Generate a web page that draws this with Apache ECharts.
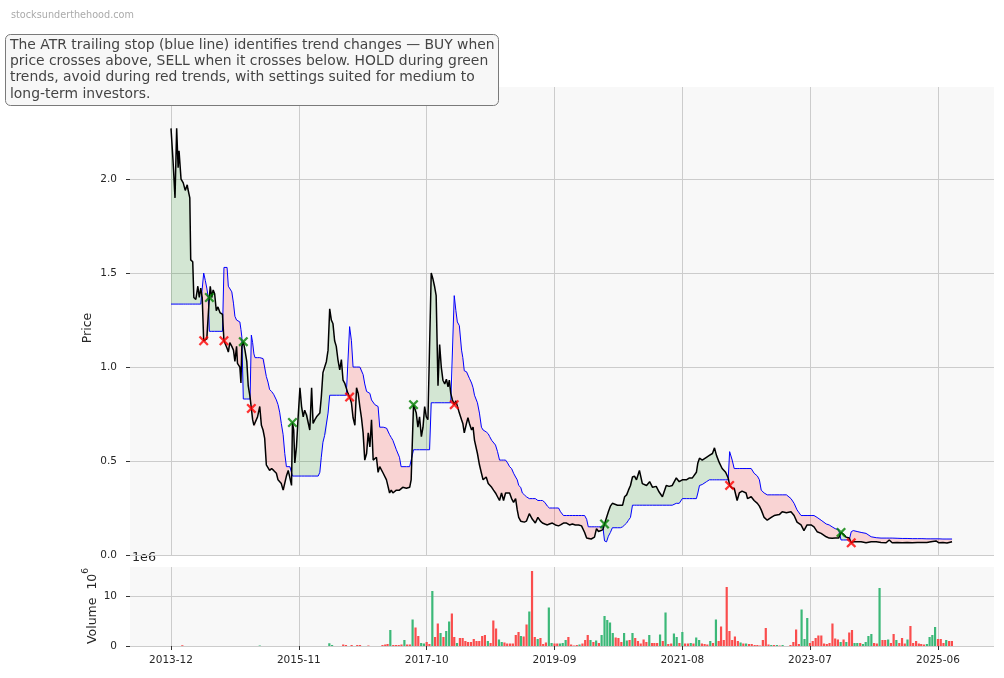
<!DOCTYPE html>
<html><head><meta charset="utf-8">
<script src="https://cdn.jsdelivr.net/npm/echarts@6/dist/echarts.min.js"></script>
<style>html,body{margin:0;padding:0;background:#fff;}#c{width:1004px;height:678px;}</style>
</head><body><div id="c"></div>
<script>
// ---------- DATA ----------
const dates = [
'2013-12-01','2013-12-12','2013-12-23','2014-01-01','2014-01-09','2014-01-14','2014-01-25','2014-02-06','2014-02-17','2014-02-28',
'2014-03-03','2014-03-14','2014-03-19','2014-03-30','2014-04-05','2014-04-16','2014-04-27','2014-05-05','2014-05-13','2014-05-21',
'2014-05-29','2014-06-07','2014-06-15','2014-06-23','2014-06-29','2014-07-04','2014-07-12','2014-07-20','2014-07-28','2014-08-06',
'2014-08-15','2014-08-26','2014-09-09','2014-09-17','2014-09-25','2014-10-04','2014-10-11','2014-10-19','2014-10-30','2014-11-08',
'2014-11-16','2014-11-25','2014-11-30','2014-12-13','2014-12-19','2014-12-24','2015-01-01','2015-01-10','2015-01-20','2015-01-28',
'2015-02-07','2015-02-14','2015-02-21','2015-02-28','2015-03-06','2015-03-20','2015-04-01','2015-04-10','2015-04-19','2015-04-28',
'2015-05-07','2015-05-16','2015-05-25','2015-06-05','2015-06-16','2015-07-01','2015-07-10','2015-07-19','2015-07-28','2015-08-07',
'2015-08-16','2015-08-25','2015-09-04','2015-09-13','2015-09-22','2015-09-27','2015-10-04','2015-10-10','2015-10-19','2015-10-28',
'2015-11-07','2015-11-16','2015-11-25','2015-12-03','2015-12-13','2015-12-21','2015-12-31','2016-01-10','2016-01-18','2016-01-28',
'2016-02-06','2016-02-15','2016-02-24','2016-03-03','2016-03-12','2016-03-21','2016-03-31','2016-04-09','2016-04-18','2016-04-27',
'2016-05-06','2016-05-15','2016-05-24','2016-06-02','2016-06-12','2016-06-21','2016-06-30','2016-07-09','2016-07-18','2016-07-27',
'2016-08-05','2016-08-15','2016-08-24','2016-09-03','2016-09-12','2016-09-21','2016-09-30','2016-10-09','2016-10-18','2016-10-27',
'2016-11-06','2016-11-15','2016-11-24','2016-12-03','2016-12-12','2016-12-21','2016-12-30','2017-01-08','2017-01-17','2017-02-05',
'2017-02-23','2017-03-03','2017-03-12','2017-03-21','2017-03-30','2017-04-18','2017-05-05','2017-05-14','2017-05-23','2017-06-12',
'2017-06-30','2017-07-08','2017-07-21','2017-08-05','2017-08-14','2017-08-23','2017-09-02','2017-09-11','2017-09-20','2017-09-29',
'2017-10-08','2017-10-17','2017-10-26','2017-11-04','2017-11-13','2017-11-22','2017-12-02','2017-12-11','2017-12-20','2017-12-29',
'2018-01-08','2018-01-17','2018-01-26','2018-02-02','2018-02-10','2018-02-19','2018-03-01','2018-03-10','2018-03-18','2018-03-29',
'2018-04-10','2018-04-17','2018-04-25','2018-05-07','2018-05-15','2018-05-23','2018-06-04','2018-06-12','2018-06-20','2018-07-06',
'2018-07-17','2018-07-28','2018-08-06','2018-08-23','2018-09-03','2018-09-11','2018-09-22','2018-10-02','2018-10-13','2018-10-24',
'2018-11-04','2018-11-15','2018-11-26','2018-12-07','2018-12-18','2018-12-29','2019-01-09','2019-01-20','2019-01-31','2019-02-09',
'2019-02-17','2019-02-28','2019-03-09','2019-03-20','2019-03-31','2019-04-16','2019-05-03','2019-05-19','2019-06-02','2019-06-16',
'2019-06-27','2019-07-10','2019-07-24','2019-08-04','2019-08-20','2019-09-06','2019-09-23','2019-10-04','2019-10-20','2019-11-06',
'2019-11-22','2019-12-08','2019-12-24','2020-01-11','2020-01-27','2020-02-13','2020-02-24','2020-03-04','2020-03-20','2020-04-07',
'2020-04-18','2020-04-29','2020-05-12','2020-05-23','2020-06-01','2020-06-12','2020-06-22','2020-07-03','2020-07-14','2020-07-28',
'2020-08-11','2020-08-27','2020-09-08','2020-09-19','2020-09-30','2020-10-10','2020-10-21','2020-11-01','2020-11-12','2020-11-23',
'2020-12-09','2020-12-25','2021-01-17','2021-02-03','2021-02-19','2021-03-11','2021-03-27','2021-04-14','2021-05-05','2021-05-21',
'2021-06-07','2021-06-29','2021-07-15','2021-08-01','2021-08-23','2021-09-09','2021-09-25','2021-10-17','2021-10-25','2021-11-03',
'2021-11-18','2021-12-11','2021-12-27','2022-01-13','2022-01-24','2022-02-04','2022-02-20','2022-03-07','2022-03-26','2022-04-09',
'2022-04-17','2022-05-01','2022-05-12','2022-05-28','2022-06-09','2022-06-24','2022-07-16','2022-07-24','2022-08-13','2022-08-29',
'2022-09-16','2022-09-27','2022-10-07','2022-10-23','2022-11-09','2022-12-01','2022-12-17','2023-01-14','2023-01-30','2023-02-22',
'2023-03-19','2023-04-05','2023-04-21','2023-05-13','2023-05-29','2023-06-15','2023-07-07','2023-07-23','2023-08-09','2023-08-31',
'2023-09-28','2023-10-14','2023-10-30','2023-11-16','2023-12-05','2023-12-18','2024-01-01','2024-01-15','2024-02-01','2024-02-12',
'2024-02-23','2024-03-15','2024-04-06','2024-05-03','2024-05-31','2024-06-28','2024-07-24','2024-08-21','2024-09-07','2024-09-23',
'2024-10-20','2024-11-17','2024-12-14','2025-01-11','2025-02-08','2025-03-05','2025-04-01','2025-04-23','2025-05-21','2025-06-06',
'2025-06-28','2025-07-20','2025-08-17'
];
const closePrice = [
2.27,2.10,1.90,2.27,2.06,2.15,2.00,1.98,1.94,1.97,
1.95,1.90,1.57,1.56,1.37,1.36,1.43,1.37,1.42,1.37,
1.14,1.14,1.15,1.14,1.37,1.43,1.37,1.41,1.39,1.30,
1.32,1.29,1.28,1.14,1.13,1.10,1.08,1.13,1.11,1.09,
1.03,1.11,1.02,1.00,0.915,1.11,1.135,1.09,1.03,0.90,
0.84,0.78,0.72,0.69,0.68,0.735,0.79,0.69,0.665,0.62,
0.48,0.49,0.45,0.46,0.45,0.435,0.40,0.40,0.38,0.345,
0.345,0.42,0.45,0.46,0.37,0.705,0.665,0.49,0.575,0.73,
0.89,0.79,0.735,0.77,0.745,0.755,0.665,0.89,0.70,0.72,
0.735,0.745,0.755,0.84,0.97,0.96,1.03,1.09,1.31,1.25,
1.23,1.14,1.11,1.04,0.985,1.04,0.93,0.915,0.915,0.86,
0.84,0.81,0.73,0.69,0.89,0.86,0.79,0.73,0.65,0.505,
0.54,0.65,0.575,0.72,0.505,0.51,0.52,0.44,0.47,0.435,
0.40,0.40,0.33,0.345,0.33,0.345,0.345,0.35,0.36,0.355,
0.36,0.40,0.80,0.755,0.68,0.735,0.63,0.68,0.79,0.735,
0.72,0.72,1.50,1.47,1.43,1.38,0.90,1.12,1.00,0.93,
0.91,0.935,0.895,0.93,0.86,0.825,0.80,0.82,0.82,0.755,
0.72,0.70,0.65,0.70,0.73,0.70,0.665,0.68,0.61,0.54,
0.48,0.435,0.40,0.415,0.38,0.37,0.36,0.345,0.33,0.31,
0.29,0.33,0.29,0.33,0.33,0.33,0.30,0.28,0.30,0.24,
0.20,0.18,0.175,0.175,0.18,0.22,0.19,0.17,0.20,0.18,
0.17,0.165,0.16,0.165,0.17,0.16,0.155,0.16,0.17,0.17,
0.16,0.165,0.16,0.16,0.155,0.12,0.09,0.08,0.085,0.095,
0.14,0.125,0.13,0.135,0.165,0.20,0.23,0.26,0.275,0.27,
0.265,0.265,0.265,0.31,0.32,0.345,0.37,0.415,0.42,0.40,
0.45,0.38,0.37,0.39,0.36,0.365,0.335,0.31,0.37,0.365,
0.37,0.41,0.39,0.40,0.40,0.41,0.41,0.44,0.49,0.515,
0.505,0.52,0.53,0.54,0.57,0.53,0.49,0.46,0.44,0.41,
0.37,0.355,0.355,0.29,0.33,0.34,0.33,0.30,0.31,0.29,
0.275,0.26,0.24,0.20,0.185,0.20,0.21,0.215,0.23,0.225,
0.23,0.21,0.175,0.16,0.13,0.16,0.16,0.15,0.124,0.115,
0.097,0.09,0.089,0.09,0.09,0.12,0.11,0.095,0.09,0.065,
0.07,0.07,0.07,0.065,0.07,0.07,0.067,0.065,0.08,0.065,
0.067,0.065,0.066,0.065,0.067,0.066,0.066,0.07,0.075,0.065,
0.066,0.064,0.07
];
const stopLine = [
1.335,1.335,1.335,1.335,1.335,1.335,1.335,1.335,1.335,1.335,
1.335,1.335,1.335,1.335,1.335,1.335,1.335,1.335,1.335,1.335,
1.50,1.46,1.42,1.37,1.19,1.19,1.19,1.19,1.19,1.19,
1.19,1.19,1.19,1.53,1.53,1.53,1.43,1.42,1.40,1.34,
1.27,1.25,1.25,1.24,1.20,1.16,0.83,0.83,0.83,0.83,
0.83,1.17,1.13,1.07,1.05,1.05,1.05,1.05,1.045,1.04,
0.95,0.92,0.88,0.87,0.855,0.825,0.80,0.76,0.70,0.64,
0.54,0.47,0.47,0.47,0.47,0.42,0.42,0.42,0.42,0.42,
0.42,0.42,0.42,0.42,0.42,0.42,0.42,0.42,0.42,0.42,
0.42,0.42,0.44,0.52,0.60,0.635,0.645,0.755,0.85,0.85,
0.85,0.85,0.85,0.85,0.85,0.85,0.85,0.85,0.85,0.85,
1.215,1.14,1.00,1.00,1.00,1.00,1.00,1.00,0.96,0.91,
0.87,0.865,0.86,0.825,0.815,0.80,0.795,0.79,0.68,0.68,
0.675,0.675,0.64,0.625,0.61,0.56,0.52,0.47,0.47,0.47,
0.47,0.47,0.56,0.56,0.56,0.56,0.56,0.56,0.56,0.56,
0.56,0.56,0.81,0.81,0.81,0.81,0.81,0.81,0.81,0.81,
0.81,0.81,0.81,0.81,0.81,0.81,1.38,1.30,1.24,1.22,
1.09,1.05,0.98,0.975,0.97,0.94,0.915,0.89,0.85,0.81,
0.755,0.68,0.665,0.655,0.645,0.63,0.61,0.60,0.585,0.55,
0.505,0.505,0.505,0.505,0.49,0.47,0.46,0.435,0.415,0.40,
0.37,0.36,0.33,0.32,0.31,0.30,0.30,0.30,0.29,0.29,
0.29,0.28,0.26,0.25,0.25,0.25,0.25,0.23,0.21,0.21,
0.21,0.21,0.21,0.21,0.21,0.21,0.19,0.15,0.15,0.15,
0.15,0.15,0.15,0.15,0.075,0.07,0.10,0.12,0.145,0.145,
0.145,0.145,0.15,0.16,0.17,0.185,0.20,0.265,0.265,0.265,
0.265,0.265,0.265,0.265,0.265,0.265,0.265,0.265,0.265,0.265,
0.265,0.275,0.275,0.30,0.30,0.30,0.30,0.30,0.33,0.37,
0.375,0.39,0.40,0.40,0.40,0.40,0.40,0.40,0.40,0.40,
0.55,0.505,0.46,0.46,0.46,0.46,0.46,0.46,0.46,0.435,
0.42,0.40,0.345,0.33,0.32,0.32,0.32,0.32,0.32,0.32,
0.30,0.275,0.24,0.21,0.21,0.21,0.21,0.21,0.20,0.185,
0.165,0.16,0.15,0.14,0.135,0.08,0.08,0.08,0.08,0.124,
0.13,0.125,0.12,0.115,0.097,0.092,0.09,0.09,0.09,0.09,
0.089,0.088,0.088,0.087,0.087,0.087,0.086,0.086,0.086,0.086,
0.085,0.085,0.085
];
const buyDates  = ['2014-06-29','2015-01-01','2015-09-27','2017-07-21','2020-06-01','2023-12-18'];
const sellDates = ['2014-05-29','2014-09-17','2015-02-14','2016-08-05','2018-03-01','2022-04-17','2024-02-12'];

// volume in millions; up = 1 (green), 0 (red)
const volDates = [
'2014-02-01','2015-04-01','2016-04-16','2016-05-01','2016-07-01','2016-07-16','2016-08-16','2016-09-16','2016-10-01','2016-11-16',
'2017-02-01','2017-02-16','2017-03-01','2017-03-16','2017-04-01','2017-04-16','2017-05-01','2017-05-16','2017-06-01','2017-06-16',
'2017-07-01','2017-07-16','2017-08-01','2017-08-16','2017-09-01','2017-09-16','2017-10-01','2017-10-16','2017-11-01','2017-11-16',
'2017-12-01','2017-12-16','2018-01-01','2018-01-16','2018-02-01','2018-02-16','2018-03-01','2018-03-16','2018-04-01','2018-04-16',
'2018-05-01','2018-05-16','2018-06-01','2018-06-16','2018-07-01','2018-07-16','2018-08-01','2018-08-16','2018-09-01','2018-09-16',
'2018-10-01','2018-10-16','2018-11-01','2018-11-16','2018-12-01','2018-12-16','2019-01-01','2019-01-16','2019-02-01','2019-02-16',
'2019-03-01','2019-03-16','2019-04-01','2019-04-16','2019-05-01','2019-05-16','2019-06-01','2019-06-16','2019-07-01','2019-07-16',
'2019-08-01','2019-08-16','2019-09-01','2019-09-16','2019-10-01','2019-10-16','2019-11-01','2019-11-16','2019-12-01','2019-12-16',
'2020-01-01','2020-01-16','2020-02-01','2020-02-16','2020-03-01','2020-03-16','2020-04-01','2020-04-16','2020-05-01','2020-05-16',
'2020-06-01','2020-06-16','2020-07-01','2020-07-16','2020-08-01','2020-08-16','2020-09-01','2020-09-16','2020-10-01','2020-10-16',
'2020-11-01','2020-11-16','2020-12-01','2020-12-16','2021-01-01','2021-01-16','2021-02-01','2021-02-16','2021-03-01','2021-03-16',
'2021-04-01','2021-04-16','2021-05-01','2021-05-16','2021-06-01','2021-06-16','2021-07-01','2021-07-16','2021-08-01','2021-08-16',
'2021-09-01','2021-09-16','2021-10-01','2021-10-16','2021-11-01','2021-11-16','2021-12-01','2021-12-16','2022-01-01','2022-01-16',
'2022-02-01','2022-02-16','2022-03-01','2022-03-16','2022-04-01','2022-04-16','2022-05-01','2022-05-16','2022-06-01','2022-06-16',
'2022-07-01','2022-07-16','2022-08-01','2022-08-16','2022-09-01','2022-09-16','2022-10-01','2022-10-16','2022-11-01','2022-11-16',
'2022-12-01','2022-12-16','2023-01-01','2023-01-16','2023-02-01','2023-03-16','2023-04-01','2023-04-16','2023-05-01','2023-05-16',
'2023-06-01','2023-06-16','2023-07-01','2023-07-16','2023-08-01','2023-08-16','2023-09-01','2023-09-16','2023-10-01','2023-10-16',
'2023-11-01','2023-11-16','2023-12-01','2023-12-16','2024-01-01','2024-01-16','2024-02-01','2024-02-16','2024-03-01','2024-03-16',
'2024-04-01','2024-04-16','2024-05-01','2024-05-16','2024-06-01','2024-06-16','2024-07-01','2024-07-16','2024-08-01','2024-08-16',
'2024-09-01','2024-09-16','2024-10-01','2024-10-16','2024-11-01','2024-11-16','2024-12-01','2024-12-16','2025-01-01','2025-01-16',
'2025-02-01','2025-02-16','2025-03-01','2025-03-16','2025-04-01','2025-04-16','2025-05-01','2025-05-16','2025-06-01','2025-06-16',
'2025-07-01','2025-07-16','2025-08-01','2025-08-16'
];
const volValues = [
0.15,0.1,0.55,0.2,0.3,0.2,0.2,0.2,0.2,0.1,
0.2,0.3,0.4,3.2,0.2,0.2,0.2,0.3,1.2,0.3,
0.3,5.3,3.7,2.0,0.6,0.5,0.8,0.4,11.0,1.8,
4.5,2.6,1.8,3.0,4.9,6.5,1.8,0.6,1.6,1.6,
1.0,0.8,0.8,1.4,1.0,1.0,2.0,2.2,1.0,0.6,
5.1,3.5,1.3,0.8,0.7,0.5,0.5,0.5,2.2,2.8,
2.0,1.9,4.3,6.9,15.0,1.8,1.4,1.6,0.4,0.7,
7.7,0.6,0.5,0.5,0.5,0.6,1.2,1.8,0.3,0.1,
0.2,0.3,0.5,1.2,2.2,1.2,0.8,1.1,0.6,2.2,
6.0,5.2,4.7,2.6,1.7,1.6,0.8,2.6,1.1,1.2,
2.6,1.6,1.0,0.5,1.3,0.8,2.2,0.6,0.6,0.6,
2.3,1.0,6.7,0.4,0.5,2.5,1.8,0.6,2.8,0.5,
0.5,0.6,0.5,1.7,1.2,0.5,0.4,0.3,1.0,0.6,
5.3,1.0,3.9,1.2,11.8,3.0,1.2,1.9,1.0,0.7,
0.5,0.5,0.4,0.4,0.2,0.2,0.1,1.2,3.6,0.3,
0.2,0.2,0.2,0.1,0.2,0.2,0.8,3.3,0.4,7.3,
1.4,5.6,0.6,1.0,1.6,2.1,2.1,0.5,0.4,0.6,
4.5,1.5,1.3,0.8,1.3,0.8,2.7,3.2,0.6,0.6,
0.6,0.4,0.8,2.0,2.4,0.6,0.5,11.6,1.2,1.2,
1.3,0.6,2.4,1.2,0.6,1.6,0.5,1.3,4.0,0.6,
1.0,0.5,0.4,0.3,0.4,1.8,2.2,3.8,1.4,1.4,
0.6,1.2,1.0,1.0
];
const volUp = [
0,1,1,1,0,0,0,0,0,0,
0,0,0,1,0,0,0,0,1,0,
0,1,0,0,1,1,0,0,1,0,
0,1,0,1,1,0,0,1,0,0,
0,0,0,0,0,0,0,0,1,0,
0,0,1,1,0,0,0,0,0,0,
1,0,0,1,0,0,1,0,0,0,
1,1,0,0,1,1,1,0,0,0,
0,1,0,0,0,1,0,1,0,1,
1,1,1,1,0,0,0,1,1,0,
1,0,0,0,0,0,1,0,0,0,
1,0,1,0,0,1,1,0,1,0,
0,1,0,1,1,0,0,0,1,0,
1,0,0,0,0,0,0,0,0,1,
0,1,0,0,0,0,0,0,0,0,
1,0,1,0,1,0,0,0,0,1,
1,1,0,0,0,0,0,0,0,0,
0,0,0,1,0,1,0,0,1,1,
0,1,1,1,1,0,0,1,0,0,
1,0,0,1,0,0,0,1,0,0,
0,0,0,0,1,1,1,1,0,0,
0,1,0,0
];
const xTickLabels = ['2013-12','2015-11','2017-10','2019-09','2021-08','2023-07','2025-06'];
const priceTicks = [0, 0.5, 1.0, 1.5, 2.0];
const volTicks = [0, 10];

// ---------- helpers ----------
function ts(s){ const p = s.split('-').map(Number); return Date.UTC(p[0], p[1]-1, p[2] || 1); }
const X = dates.map(ts);
const xTickValues = xTickLabels.map(ts);

// layout: grid spans x 130..994; first tick at 171, last at 938
const GL = 130, GW = 864;
const mpp = (xTickValues[6] - xTickValues[0]) / (938 - 171);
const xMin = xTickValues[0] - (171 - GL) * mpp;
const xMax = xMin + GW * mpp;

// split the close/stop band into same-sign runs (crossings interpolated)
const runs = [];
(function(){
  let cur = {c:[[X[0], closePrice[0]]], s:[[X[0], stopLine[0]]], sum:closePrice[0]-stopLine[0]};
  for (let i = 0; i < X.length - 1; i++) {
    const d0 = closePrice[i] - stopLine[i], d1 = closePrice[i+1] - stopLine[i+1];
    if (d0 * d1 < 0) {
      const t = d0 / (d0 - d1);
      const xm = X[i] + t * (X[i+1] - X[i]);
      const ym = closePrice[i] + t * (closePrice[i+1] - closePrice[i]);
      cur.c.push([xm, ym]); cur.s.push([xm, ym]); runs.push(cur);
      cur = {c:[[xm, ym]], s:[[xm, ym]], sum:0};
    }
    cur.c.push([X[i+1], closePrice[i+1]]); cur.s.push([X[i+1], stopLine[i+1]]); cur.sum += d1;
  }
  runs.push(cur);
})();

function pairs(arr){ return arr.map((v,i)=>[X[i], v]); }
function sig(list){ return list.map(d=>{ const i = dates.indexOf(d); return [X[i], closePrice[i]]; }); }

const GREEN_V = '#3cb878', RED_V = '#fa4d4d';
const volData = volDates.map((d,i)=>({value:[ts(d), volValues[i]], itemStyle:{color: volUp[i] ? GREEN_V : RED_V}}));

const FONT = '"DejaVu Sans", Verdana, sans-serif';
const XSHAPE = 'path://M0,1.6 L1.6,0 L5,3.4 L8.4,0 L10,1.6 L6.6,5 L10,8.4 L8.4,10 L5,6.6 L1.6,10 L0,8.4 L3.4,5 Z';

const chart = echarts.init(document.getElementById('c'), null, {renderer:'canvas'});
const tickLabelStyle = {fontFamily: FONT, fontSize: 10.5, color: '#262626'};
const gridLine = {show:true, lineStyle:{color:'#cccccc', width:1}};

chart.setOption({
  animation: false,
  backgroundColor: '#ffffff',
  grid: [
    {left: GL, width: GW, top: 87, height: 468, backgroundColor: '#f8f8f8', show: true, borderWidth: 0},
    {left: GL, width: GW, top: 567, height: 79, backgroundColor: '#f8f8f8', show: true, borderWidth: 0}
  ],
  xAxis: [
    {type:'value', gridIndex:0, min:xMin, max:xMax,
     axisLine:{show:false}, axisTick:{show:false, customValues:xTickValues},
     axisLabel:{show:false, customValues:xTickValues}, splitLine:gridLine},
    {type:'value', gridIndex:1, min:xMin, max:xMax,
     axisLine:{show:false},
     axisTick:{show:true, length:4, customValues:xTickValues, lineStyle:{color:'#333'}},
     axisLabel:{show:true, customValues:xTickValues, margin:9, ...tickLabelStyle,
       formatter:(v)=>{ const k = xTickValues.indexOf(v); return k >= 0 ? xTickLabels[k] : ''; }},
     splitLine:gridLine}
  ],
  yAxis: [
    {type:'value', gridIndex:0, min:0, max:2.49,
     axisLine:{show:false},
     axisTick:{show:true, length:4, customValues:priceTicks, lineStyle:{color:'#333'}},
     axisLabel:{customValues:priceTicks, margin:13, ...tickLabelStyle, formatter:(v)=>v.toFixed(1)},
     splitLine:gridLine},
    {type:'value', gridIndex:1, min:0, max:15.8,
     axisLine:{show:false},
     axisTick:{show:true, length:4, customValues:volTicks, lineStyle:{color:'#333'}},
     axisLabel:{customValues:volTicks, margin:13, ...tickLabelStyle, formatter:(v)=>String(v)},
     splitLine:gridLine}
  ],
  series: [
    {name:'trend fill', type:'custom', xAxisIndex:0, yAxisIndex:0, silent:true, z:1,
     data: runs.map((r,k)=>[r.c[0][0], r.c[0][1], k]),
     renderItem: function(params, api){
       const r = runs[params.dataIndex];
       const pts = r.c.concat(r.s.slice().reverse()).map(p=>api.coord(p));
       return {type:'polygon', shape:{points:pts},
               style:{fill: r.sum >= 0 ? 'rgba(0,128,0,0.15)' : 'rgba(255,0,0,0.15)'}};
     }},
    {name:'ATR stop', type:'line', xAxisIndex:0, yAxisIndex:0, data:pairs(stopLine),
     showSymbol:false, symbol:'none', lineStyle:{color:'#0000ff', width:1}, z:3},
    {name:'Close', type:'line', xAxisIndex:0, yAxisIndex:0, data:pairs(closePrice),
     showSymbol:false, symbol:'none', lineStyle:{color:'#000000', width:1.5}, z:4},
    {name:'Buy', type:'scatter', xAxisIndex:0, yAxisIndex:0, data:sig(buyDates),
     symbol:XSHAPE, symbolSize:10, itemStyle:{color:'#008000'}, z:6},
    {name:'Sell', type:'scatter', xAxisIndex:0, yAxisIndex:0, data:sig(sellDates),
     symbol:XSHAPE, symbolSize:10, itemStyle:{color:'#ff0000'}, z:6},
    {name:'Volume', type:'bar', xAxisIndex:1, yAxisIndex:1, data:volData, barWidth:2.2, z:2}
  ],
  graphic: [
    {type:'text', left:11, top:10, style:{text:'stocksunderthehood.com', fill:'#aaaaaa', font:'9.7px ' + FONT}},
    {type:'rect', shape:{x:5.5, y:34.5, width:493, height:71, r:5},
     style:{fill:'#f7f7f7', stroke:'#7a7a7a', lineWidth:1}, z:100},
    {type:'text', x:10, y:37, z:101,
     style:{text:'The ATR trailing stop (blue line) identifies trend changes \u2014 BUY when\nprice crosses above, SELL when it crosses below. HOLD during green\ntrends, avoid during red trends, with settings suited for medium to\nlong-term investors.',
       fill:'#444444', font:'13.9px ' + FONT, lineHeight:16.3}},
    {type:'text', x:88, y:328, rotation:Math.PI/2,
     style:{text:'Price', fill:'#262626', font:'12.5px ' + FONT, align:'center', verticalAlign:'middle'}},
    {type:'text', x:90, y:606, rotation:Math.PI/2,
     style:{text:'{a|Volume  10}{b|6}', align:'center', verticalAlign:'middle',
       rich:{a:{fontFamily:FONT, fontSize:12.5, fill:'#262626', lineHeight:18, verticalAlign:'bottom'},
             b:{fontFamily:FONT, fontSize:9, fill:'#262626', lineHeight:18, verticalAlign:'top'}}}},
    {type:'text', x:132, y:551, style:{text:'1e6', fill:'#262626', font:'12.7px ' + FONT}}
  ]
});
</script>
</body></html>
